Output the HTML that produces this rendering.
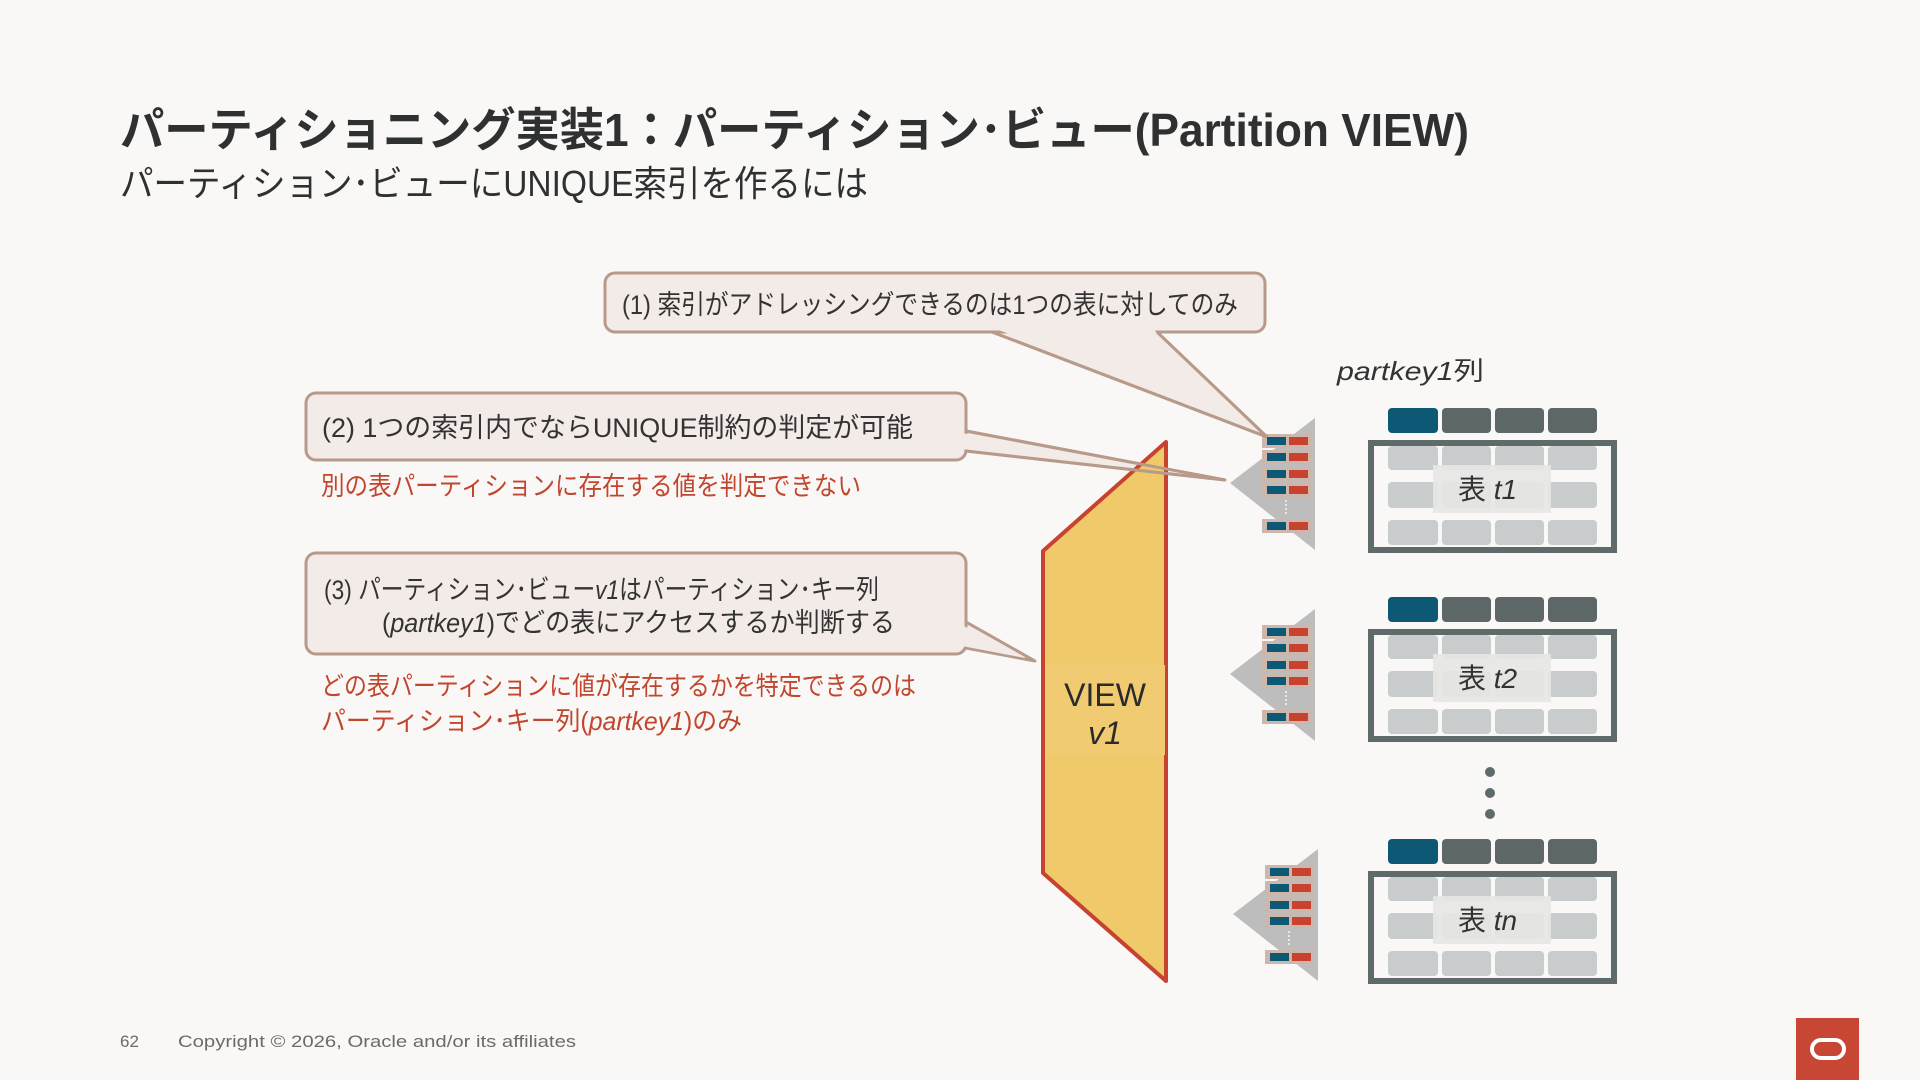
<!DOCTYPE html>
<html><head><meta charset="utf-8"><style>
html,body{margin:0;padding:0;background:#f9f8f7;}
svg{display:block;}
text{font-family:"Liberation Sans","Noto Sans CJK JP",sans-serif;}
</style></head><body>
<svg width="1920" height="1080" viewBox="0 0 1920 1080" xmlns="http://www.w3.org/2000/svg">
<rect width="1920" height="1080" fill="#f9f8f7"/>
<defs>
<g id="idx">
  <polygon points="1315,418 1315,550 1230,483" fill="#bdbdbd"/>
  <g id="row">
    <rect x="1262" y="434" width="49" height="14" fill="#cdb6ab"/>
    <rect x="1267" y="437" width="19" height="8" fill="#0d5874"/>
    <rect x="1289" y="437" width="19" height="8" fill="#c8432f"/>
  </g>
  <use href="#row" y="16"/>
  <use href="#row" y="33"/>
  <use href="#row" y="49"/>
  <line x1="1286" y1="500" x2="1286" y2="516" stroke="#e8e8e8" stroke-width="2" stroke-dasharray="2,2"/>
  <use href="#row" y="85"/>
</g>
<g id="tbl">
  <rect x="1388" y="408" width="50" height="25" rx="4" fill="#0d5874"/>
  <rect x="1442" y="408" width="49" height="25" rx="4" fill="#5d6767"/>
  <rect x="1495" y="408" width="49" height="25" rx="4" fill="#5d6767"/>
  <rect x="1548" y="408" width="49" height="25" rx="4" fill="#5d6767"/>
  <g fill="#c8cccc">
    <rect x="1388" y="446" width="50" height="24" rx="4"/><rect x="1442" y="446" width="49" height="24" rx="4"/><rect x="1495" y="446" width="49" height="24" rx="4"/><rect x="1548" y="446" width="49" height="24" rx="4"/>
    <rect x="1388" y="482" width="50" height="26" rx="4"/><rect x="1442" y="482" width="49" height="26" rx="4"/><rect x="1495" y="482" width="49" height="26" rx="4"/><rect x="1548" y="482" width="49" height="26" rx="4"/>
    <rect x="1388" y="520" width="50" height="25" rx="4"/><rect x="1442" y="520" width="49" height="25" rx="4"/><rect x="1495" y="520" width="49" height="25" rx="4"/><rect x="1548" y="520" width="49" height="25" rx="4"/>
  </g>
  <rect x="1371" y="443" width="243" height="107" fill="none" stroke="#5f6a6a" stroke-width="6"/>
  <rect x="1433" y="465" width="118" height="48" fill="#e6e6e4" opacity="0.92"/>
</g>
</defs>

<text x="120" y="146" font-size="46" font-weight="bold" fill="#2f3030" textLength="1349" lengthAdjust="spacingAndGlyphs">パーティショニング実装1：パーティション･ビュー(Partition VIEW)</text>
<text x="120" y="196" font-size="36" fill="#2f3030" textLength="748" lengthAdjust="spacingAndGlyphs">パーティション･ビューにUNIQUE索引を作るには</text>

<polygon points="992,332 1157,332 1267,437" fill="#f3ebe8" stroke="#b89a8a" stroke-width="3" stroke-linejoin="round"/>
<rect x="605" y="273" width="660" height="59" rx="10" fill="#f3ebe8" stroke="#b89a8a" stroke-width="3"/>
<polygon points="996,329 1153,329 1262,431" fill="#f3ebe8"/>
<text x="622" y="314" font-size="27" fill="#333" textLength="616" lengthAdjust="spacingAndGlyphs">(1) 索引がアドレッシングできるのは1つの表に対してのみ</text>

<polygon points="966,431 966,451 1225,480" fill="#f3ebe8" stroke="#b89a8a" stroke-width="3" stroke-linejoin="round"/>
<rect x="306" y="393" width="660" height="67" rx="10" fill="#f3ebe8" stroke="#b89a8a" stroke-width="3"/>
<polygon points="962,433 962,449 1215,478" fill="#f3ebe8"/>
<text x="322" y="437" font-size="27" fill="#333" textLength="591" lengthAdjust="spacingAndGlyphs">(2) 1つの索引内でならUNIQUE制約の判定が可能</text>
<text x="321" y="495" font-size="26" fill="#c2452d" textLength="540" lengthAdjust="spacingAndGlyphs">別の表パーティションに存在する値を判定できない</text>

<polygon points="966,622 966,648 1035,661" fill="#f3ebe8" stroke="#b89a8a" stroke-width="3" stroke-linejoin="round"/>
<rect x="306" y="553" width="660" height="101" rx="10" fill="#f3ebe8" stroke="#b89a8a" stroke-width="3"/>
<polygon points="962,625 962,646 1025,658" fill="#f3ebe8"/>
<text x="324" y="599" font-size="27" fill="#333" textLength="555" lengthAdjust="spacingAndGlyphs">(3) パーティション･ビュー<tspan font-style="italic">v1</tspan>はパーティション･キー列</text>
<text x="382" y="632" font-size="27" fill="#333" textLength="513" lengthAdjust="spacingAndGlyphs">(<tspan font-style="italic">partkey1</tspan>)でどの表にアクセスするか判断する</text>
<text x="321" y="695" font-size="26" fill="#c2452d" textLength="595" lengthAdjust="spacingAndGlyphs">どの表パーティションに値が存在するかを特定できるのは</text>
<text x="321" y="730" font-size="26" fill="#c2452d" textLength="421" lengthAdjust="spacingAndGlyphs">パーティション･キー列(<tspan font-style="italic">partkey1</tspan>)のみ</text>

<polygon points="1166,442 1166,981 1043,873 1043,551" fill="#f0c96b" stroke="#c8432f" stroke-width="4" stroke-linejoin="round"/>
<rect x="1045" y="665" width="120" height="90" fill="#f0cb72"/>
<text x="1105" y="706" font-size="32" fill="#2a2a2a" text-anchor="middle">VIEW</text>
<text x="1105" y="744" font-size="32" font-style="italic" fill="#2a2a2a" text-anchor="middle">v1</text>

<use href="#idx"/>
<use href="#idx" y="191"/>
<use href="#idx" x="3" y="431"/>
<line x1="1157" y1="332" x2="1267" y2="437" stroke="#b89a8a" stroke-width="3"/>
<line x1="992" y1="332" x2="1267" y2="437" stroke="#b89a8a" stroke-width="3"/>
<line x1="966" y1="431" x2="1225" y2="480" stroke="#b89a8a" stroke-width="3"/>
<line x1="966" y1="451" x2="1225" y2="480" stroke="#b89a8a" stroke-width="3"/>

<text x="1337" y="380" font-size="26" fill="#333" textLength="147" lengthAdjust="spacingAndGlyphs"><tspan font-style="italic">partkey1</tspan>列</text>
<use href="#tbl"/>
<use href="#tbl" y="189"/>
<use href="#tbl" y="431"/>
<text x="1458" y="499" font-size="28" fill="#333">表 <tspan font-style="italic">t1</tspan></text>
<text x="1458" y="688" font-size="28" fill="#333">表 <tspan font-style="italic">t2</tspan></text>
<text x="1458" y="930" font-size="28" fill="#333">表 <tspan font-style="italic">tn</tspan></text>
<circle cx="1490" cy="772" r="5" fill="#5f6a6a"/>
<circle cx="1490" cy="793" r="5" fill="#5f6a6a"/>
<circle cx="1490" cy="814" r="5" fill="#5f6a6a"/>

<text x="120" y="1047" font-size="17" fill="#6b6b6b">62</text>
<text x="178" y="1047" font-size="17" fill="#6b6b6b" textLength="398" lengthAdjust="spacingAndGlyphs">Copyright © 2026, Oracle and/or its affiliates</text>
<rect x="1796" y="1018" width="63" height="62" fill="#c74634"/>
<rect x="1812" y="1040" width="32" height="18" rx="9" fill="none" stroke="#fff" stroke-width="4"/>
</svg>
</body></html>
